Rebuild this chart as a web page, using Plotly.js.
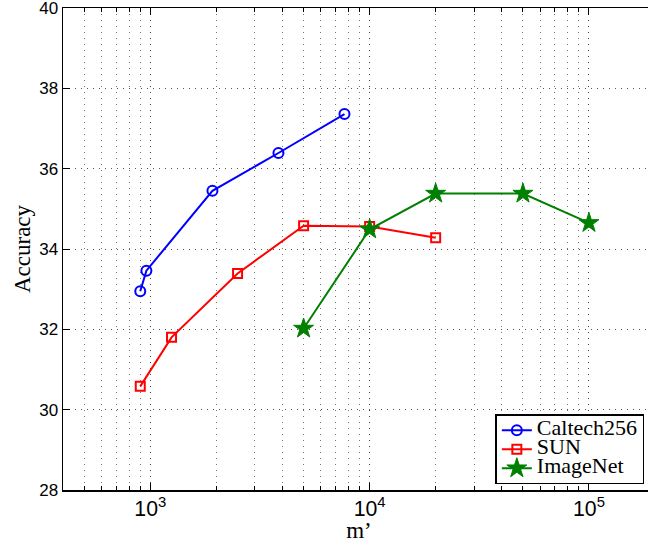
<!DOCTYPE html>
<html>
<head>
<meta charset="utf-8">
<script src="https://cdn.plot.ly/plotly-3.0.1.min.js"></script>
<style>
html,body{margin:0;padding:0;overflow:hidden;background:#fff;}
#chart{width:660px;height:543px;}
</style>
</head>
<body>
<div id="chart"></div>
<script>
// Data
const caltechX = [900, 960, 1920, 3840, 7680];
const caltechY = [32.95, 33.46, 35.45, 36.39, 37.36];
const sunX = [900, 1250, 2500, 5000, 10000, 20000];
const sunY = [30.58, 31.8, 33.39, 34.58, 34.56, 34.28];
const imagenetX = [5000, 10000, 20000, 50000, 100000];
const imagenetY = [32.02, 34.49, 35.38, 35.38, 34.65];
const seriesNames = ["Caltech256", "SUN", "ImageNet"];
const yTicks = [28, 30, 32, 34, 36, 38, 40];

function legendName(s) {
  return '<span style="font-size:22px">' + s + '</span>';
}

const traces = [
  {x: caltechX, y: caltechY, name: legendName(seriesNames[0]), mode: "lines+markers", type: "scatter",
   line: {color: "#0000ff", width: 2},
   marker: {symbol: "circle-open", size: 10, color: "#0000ff", line: {width: 2, color: "#0000ff"}}},
  {x: sunX, y: sunY, name: legendName(seriesNames[1]), mode: "lines+markers", type: "scatter",
   line: {color: "#ff0000", width: 2},
   marker: {symbol: "square-open", size: 9, color: "#ff0000", line: {width: 2, color: "#ff0000"}}},
  {x: imagenetX, y: imagenetY, name: legendName(seriesNames[2]), mode: "lines+markers", type: "scatter",
   line: {color: "#008000", width: 2},
   marker: {symbol: "star", size: 15, color: "#008000", line: {width: 1, color: "#008000"}}}
];

const layout = {
  width: 660, height: 543,
  margin: {l: 63, r: 5, t: 8, b: 53, autoexpand: false},
  paper_bgcolor: "#fff", plot_bgcolor: "#fff",
  showlegend: true,
  legend: {
    x: 0.982, y: 0.012, xanchor: "right", yanchor: "bottom",
    bgcolor: "#fff", bordercolor: "#000", borderwidth: 1.5,
    font: {family: "Liberation Serif", size: 12, color: "#000"},
    tracegroupgap: 0, itemwidth: 30
  },
  xaxis: {
    type: "log", range: [Math.log10(400), Math.log10(200000)],
    dtick: 1, exponentformat: "power", showexponent: "all",
    ticks: "inside", ticklen: 7, tickwidth: 1, tickcolor: "#000",
    mirror: "allticks", showline: true, linecolor: "#000", linewidth: 1.5,
    showgrid: true, gridcolor: "#444", griddash: "1px,5px", gridwidth: 1,
    zeroline: false, automargin: false, ticklabeloverflow: "allow",
    tickfont: {family: "Liberation Sans", size: 17, color: "#000"},
    minor: {dtick: "D1", ticks: "inside", ticklen: 4, tickcolor: "#000",
            showgrid: true, gridcolor: "#777", griddash: "1px,5px", gridwidth: 1},
    title: {text: "m’", font: {family: "Liberation Serif", size: 23, color: "#000"}, standoff: 3}
  },
  yaxis: {
    range: [28, 40], tickvals: yTicks, ticktext: yTicks.map(String),
    ticks: "inside", ticklen: 7, tickwidth: 1, tickcolor: "#000",
    mirror: "allticks", showline: true, linecolor: "#000", linewidth: 1.5,
    showgrid: true, gridcolor: "#555", griddash: "1px,5px", gridwidth: 1,
    zeroline: false, automargin: false, ticklabeloverflow: "allow",
    tickfont: {family: "Liberation Sans", size: 17, color: "#000"},
    title: {text: "Accuracy", font: {family: "Liberation Serif", size: 23, color: "#000"}, standoff: 2}
  }
};

Plotly.newPlot("chart", traces, layout, {displayModeBar: false, staticPlot: true});
</script>
</body>
</html>
